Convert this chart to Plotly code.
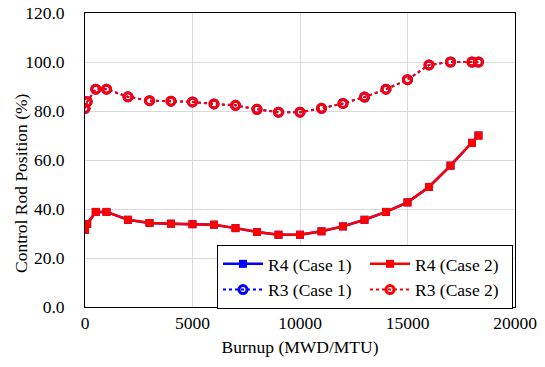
import plotly.graph_objects as go

burnup = [0, 100, 500, 1000, 2000, 3000, 4000, 5000, 6000, 7000, 8000, 9000,
          10000, 11000, 12000, 13000, 14000, 15000, 16000, 17000, 18000, 18300]

r4_case1 = [31.5, 33.9, 38.8, 38.8, 35.6, 34.3, 34.0, 33.8, 33.6, 32.2, 30.6, 29.5,
            29.5, 30.9, 32.9, 35.6, 38.8, 42.7, 49.0, 57.7, 67.0, 70.0]
r4_case2 = [31.5, 33.9, 38.8, 38.8, 35.6, 34.3, 34.0, 33.8, 33.6, 32.2, 30.6, 29.5,
            29.5, 30.9, 32.9, 35.6, 38.8, 42.7, 49.0, 57.7, 67.0, 70.0]
r3_case1 = [81.1, 83.8, 88.9, 88.9, 85.8, 84.2, 84.0, 83.7, 82.9, 82.3, 80.7, 79.5,
            79.5, 81.1, 83.1, 85.7, 88.9, 92.8, 98.8, 100.0, 100.0, 100.0]
r3_case2 = [81.1, 83.8, 88.9, 88.9, 85.8, 84.2, 84.0, 83.7, 82.9, 82.3, 80.7, 79.5,
            79.5, 81.1, 83.1, 85.7, 88.9, 92.8, 98.8, 100.0, 100.0, 100.0]

font = "Liberation Serif"
FS = 17.5
BLUE = "#0000ff"
RED = "#ff0000"

fig = go.Figure()
fig.add_trace(go.Scatter(x=burnup, y=r4_case1, name="R4 (Case 1)", mode="lines+markers",
                         line=dict(color=BLUE, width=2.5),
                         marker=dict(symbol="square", size=8, color=BLUE)))
fig.add_trace(go.Scatter(x=burnup, y=r4_case2, name="R4 (Case 2)", mode="lines+markers",
                         line=dict(color=RED, width=2.5),
                         marker=dict(symbol="square", size=8, color=RED)))
fig.add_trace(go.Scatter(x=burnup, y=r3_case1, name="R3 (Case 1)", mode="lines+markers",
                         line=dict(color=BLUE, width=2, dash="dot"),
                         marker=dict(symbol="circle-open", size=8, color=BLUE, line=dict(width=3))))
fig.add_trace(go.Scatter(x=burnup, y=r3_case2, name="R3 (Case 2)", mode="lines+markers",
                         line=dict(color=RED, width=2, dash="dot"),
                         marker=dict(symbol="circle-open", size=8, color=RED, line=dict(width=3))))

fig.update_layout(
    width=545, height=367,
    margin=dict(l=85, r=30, t=13, b=60, autoexpand=False),
    paper_bgcolor="white", plot_bgcolor="white",
    font=dict(family=font, size=FS, color="black"),
    showlegend=True,
    legend=dict(orientation="h", x=0.307, y=0.211, xanchor="left", yanchor="top",
                entrywidth=92, itemwidth=40, bgcolor="white", bordercolor="black", borderwidth=1,
                font=dict(family=font, size=FS), tracegroupgap=0),
    annotations=[dict(text="Control Rod Position (%)", textangle=-90, xref="paper", yref="paper",
                      x=-0.15, y=0.42, xanchor="center", yanchor="middle", showarrow=False,
                      font=dict(family=font, size=FS))],
)
fig.update_xaxes(range=[0, 20000], dtick=5000, tickformat="d", showgrid=True, gridcolor="#d9d9d9",
                 gridwidth=1, showline=True, linecolor="black", linewidth=1, mirror=True,
                 zeroline=False, ticks="", automargin=False,
                 title=dict(text="Burnup (MWD/MTU)", standoff=8, font=dict(family=font, size=FS)))
fig.update_yaxes(range=[0, 120], dtick=20, tickformat=".1f", showgrid=True, gridcolor="#d9d9d9",
                 gridwidth=1, showline=True, linecolor="black", linewidth=1, mirror=True,
                 zeroline=False, ticks="", automargin=False, ticklabelstandoff=16)

fig.write_html("out.html")
